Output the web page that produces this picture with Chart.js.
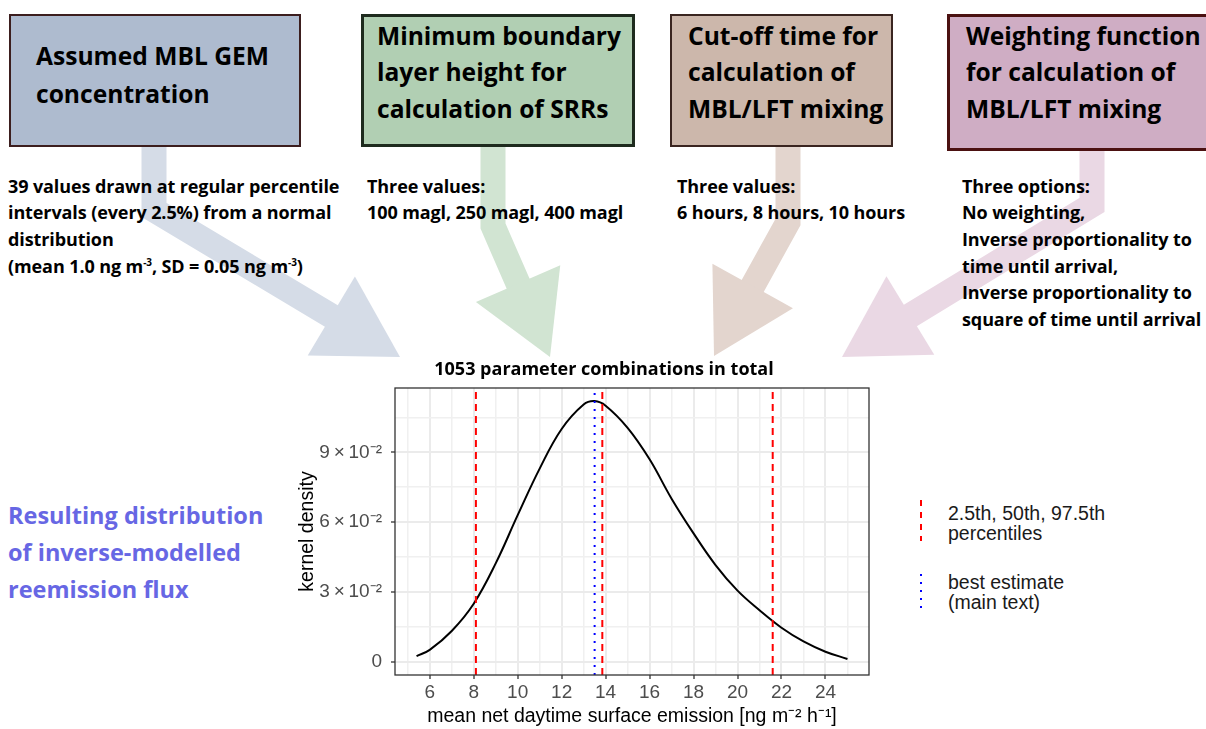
<!DOCTYPE html>
<html>
<head>
<meta charset="utf-8">
<script src="https://cdn.jsdelivr.net/npm/chart.js@4.4.1/dist/chart.umd.min.js"></script>
<style>
  html, body { margin: 0; padding: 0; background: #fff; }
  body { width: 1206px; height: 729px; position: relative; overflow: hidden; }
  #arrows { position: absolute; left: 0; top: 0; z-index: 0; }
  .box { position: absolute; box-sizing: border-box; z-index: 1; }
  .boxText, .desc, .result, .legendText {
    position: absolute; z-index: 2; white-space: nowrap;
  }
  .boxText { font: 700 24.6px 'Open Sans', 'Noto Sans', sans-serif; line-height: 36.5px; color: #000; }
  .desc { font: 700 18px 'Open Sans', 'Noto Sans', sans-serif; line-height: 26.7px; color: #000; letter-spacing: -0.1px; }
  .desc sup { font-size: 10px; vertical-align: 7px; line-height: 0; }
  .result { font: 700 23.5px 'Open Sans', 'Noto Sans', sans-serif; line-height: 37px; color: #6767e4; }
  .legendText { font: 19.5px 'Liberation Sans', Arial, sans-serif; line-height: 20px; color: #1a1a1a; }
  #chartBox { position: absolute; left: 296px; top: 358px; width: 612px; height: 371px; z-index: 3; }
  #legendSvg { position: absolute; left: 910px; top: 495px; z-index: 3; }
</style>
</head>
<body>

<svg id="arrows" width="1206" height="729"></svg>

<!-- parameter boxes -->
<div class="box" style="left:9px;top:14px;width:292px;height:133px;background:#aebbcf;border:2px solid #3c1e1e;"></div>
<div class="box" style="left:361px;top:14px;width:274px;height:133px;background:#b1cfb3;border:3px solid #1e2b1e;"></div>
<div class="box" style="left:670px;top:14px;width:223px;height:133px;background:#ccb7ab;border:2.5px solid #3a2520;"></div>
<div class="box" style="left:947px;top:14px;width:270px;height:137px;background:#cfadc4;border:3px solid #4b1111;"></div>

<div class="boxText" style="left:36px;top:37px;line-height:38px;">Assumed MBL GEM<br>concentration</div>
<div class="boxText" style="left:377px;top:17.5px;">Minimum boundary<br>layer height for<br>calculation of SRRs</div>
<div class="boxText" style="left:688px;top:17.5px;">Cut-off time for<br>calculation of<br>MBL/LFT mixing</div>
<div class="boxText" style="left:966px;top:17.5px;">Weighting function<br>for calculation of<br>MBL/LFT mixing</div>

<!-- descriptions -->
<div class="desc" style="left:8px;top:172.5px;">39 values drawn at regular percentile<br>intervals (every 2.5%) from a normal<br>distribution<br>(mean 1.0 ng m<sup>-3</sup>, SD = 0.05 ng m<sup>-3</sup>)</div>
<div class="desc" style="left:367px;top:172.5px;">Three values:<br>100 magl, 250 magl, 400 magl</div>
<div class="desc" style="left:677px;top:172.5px;">Three values:<br>6 hours, 8 hours, 10 hours</div>
<div class="desc" style="left:962px;top:172.5px;">Three options:<br>No weighting,<br>Inverse proportionality to<br>time until arrival,<br>Inverse proportionality to<br>square of time until arrival</div>

<div class="result" style="left:8px;top:496.5px;">Resulting distribution<br>of inverse-modelled<br>reemission flux</div>

<!-- chart -->
<div id="chartBox"><canvas id="densityChart"></canvas></div>

<!-- legend -->
<svg id="legendSvg" width="30" height="120">
  <line x1="11" y1="5" x2="11" y2="46" stroke="red" stroke-width="2" stroke-dasharray="6,6"></line>
  <line x1="11" y1="79" x2="11" y2="114" stroke="blue" stroke-width="2" stroke-dasharray="2,6"></line>
</svg>
<div class="legendText" style="left:948px;top:503px;">2.5th, 50th, 97.5th<br>percentiles</div>
<div class="legendText" style="left:948px;top:572px;">best estimate<br>(main text)</div>

<script>
// kernel density curve
const densityX = [5.4, 6, 7, 8, 9, 10, 11, 12, 13, 13.5, 14, 15, 16, 17, 18, 19, 20, 21, 22, 23, 24, 25];
const densityY = [0.0025, 0.0052, 0.0133, 0.0250, 0.0423, 0.063, 0.083, 0.100, 0.1105, 0.112, 0.110, 0.1005,
                  0.087, 0.0701, 0.0552, 0.0416, 0.0306, 0.0222, 0.0147, 0.0088, 0.0044, 0.0013];

// vertical reference lines
const percentileValues = [8.1, 13.85, 21.6];
const bestEstimate = 13.5;

// axis ranges and ticks
const xRange = [4.42, 25.98];
const yRange = [-0.0056, 0.1176];
const xTicks = [5, 6, 7, 8, 9, 10, 11, 12, 13, 14, 15, 16, 17, 18, 19, 20, 21, 22, 23, 24, 25];
const xLabelled = [6, 8, 10, 12, 14, 16, 18, 20, 22, 24];
const yTicks = [0, 0.015, 0.03, 0.045, 0.06, 0.075, 0.09, 0.105];
const yLabelled = [0, 0.03, 0.06, 0.09];
const yTickLabels = ['0', '3\u2009×\u200910⁻²', '6\u2009×\u200910⁻²', '9\u2009×\u200910⁻²'];
const chartTitle = '1053 parameter combinations in total';
const titleCenterX = 308; // canvas px, i.e. x = 604 on the page

// arrows from the parameter boxes to the chart
function drawArrows() {
    const svg = document.getElementById('arrows');
    const arrows = [
        { start: [154, 146], bend: [154, 210], tip: [400, 357], color: '#d5dce7' },
        { start: [493, 146], bend: [493, 226], tip: [550, 357], color: '#d1e4d2' },
        { start: [788, 146], bend: [788, 222], tip: [714, 356], color: '#e3d5ce' },
        { start: [1092, 150], bend: [1092, 205], tip: [842, 357], color: '#ead8e4' }
    ];
    const headLen = 80, headHalf = 46, shaftW = 25;
    arrows.forEach(a => {
        const dx = a.tip[0] - a.bend[0], dy = a.tip[1] - a.bend[1];
        const len = Math.hypot(dx, dy);
        const ux = dx / len, uy = dy / len;
        const base = [a.tip[0] - ux * headLen, a.tip[1] - uy * headLen];
        const px = -uy, py = ux;
        const shaft = document.createElementNS('http://www.w3.org/2000/svg', 'polyline');
        shaft.setAttribute('points', `${a.start[0]},${a.start[1]} ${a.bend[0]},${a.bend[1]} ${base[0] + ux},${base[1] + uy}`);
        shaft.setAttribute('fill', 'none');
        shaft.setAttribute('stroke', a.color);
        shaft.setAttribute('stroke-width', shaftW);
        shaft.setAttribute('stroke-linejoin', 'miter');
        svg.appendChild(shaft);
        const head = document.createElementNS('http://www.w3.org/2000/svg', 'polygon');
        head.setAttribute('points',
            `${base[0] + px * headHalf},${base[1] + py * headHalf} ${a.tip[0]},${a.tip[1]} ${base[0] - px * headHalf},${base[1] - py * headHalf}`);
        head.setAttribute('fill', a.color);
        svg.appendChild(head);
    });
}
drawArrows();

const isMajorX = v => xLabelled.includes(v);
const isMajorY = v => yLabelled.some(t => Math.abs(t - v) < 1e-9);

// panel border on top + title centred over the whole figure (ggplot style)
const panelDecor = {
    id: 'panelDecor',
    afterDatasetsDraw(chart) {
        const { ctx, chartArea: a } = chart;
        ctx.save();
        ctx.strokeStyle = '#333333';
        ctx.lineWidth = 1.3;
        ctx.strokeRect(a.left, a.top, a.right - a.left, a.bottom - a.top);
        ctx.restore();
    },
    afterDraw(chart) {
        const ctx = chart.ctx;
        ctx.save();
        ctx.font = "bold 18px 'Open Sans', 'Noto Sans', sans-serif";
        ctx.fillStyle = '#000';
        ctx.textAlign = 'center';
        ctx.textBaseline = 'middle';
        ctx.fillText(chartTitle, titleCenterX, 12);
        ctx.restore();
    }
};

function vline(x, color, dash) {
    return {
        data: [{ x: x, y: yRange[0] }, { x: x, y: yRange[1] }],
        borderColor: color,
        borderWidth: 2,
        borderDash: dash,
        pointRadius: 0,
        fill: false,
        order: 1
    };
}

Chart.defaults.font.family = "'Liberation Sans', Arial, sans-serif";

const datasets = [{
    data: densityX.map((x, i) => ({ x: x, y: densityY[i] })),
    borderColor: '#000000',
    borderWidth: 2,
    pointRadius: 0,
    tension: 0.4,
    fill: false,
    order: 2
}];
percentileValues.forEach(v => datasets.push(vline(v, '#ff0000', [7, 5])));
datasets.push(vline(bestEstimate, '#0000ff', [2, 6]));

new Chart(document.getElementById('densityChart'), {
    type: 'line',
    data: { datasets: datasets },
    plugins: [panelDecor],
    options: {
        responsive: true,
        maintainAspectRatio: false,
        animation: false,
        layout: { padding: { left: 0, right: 39, top: 30, bottom: 0 } },
        plugins: {
            legend: { display: false },
            tooltip: { enabled: false },
            title: { display: false }
        },
        scales: {
            x: {
                type: 'linear',
                min: xRange[0],
                max: xRange[1],
                afterBuildTicks: scale => { scale.ticks = xTicks.map(v => ({ value: v })); },
                afterFit: scale => { scale.height = 54; },
                border: { display: false },
                grid: {
                    color: ctx => isMajorX(ctx.tick.value) ? '#ebebeb' : '#f0f0f0',
                    lineWidth: ctx => isMajorX(ctx.tick.value) ? 2 : 1.5,
                    tickColor: ctx => isMajorX(ctx.tick.value) ? '#333333' : 'rgba(0,0,0,0)',
                    tickWidth: 1.3,
                    tickLength: 4
                },
                ticks: {
                    autoSkip: false,
                    maxRotation: 0,
                    padding: 2,
                    color: '#4d4d4d',
                    font: { size: 19 },
                    callback: v => isMajorX(v) ? String(v) : ''
                },
                title: {
                    display: true,
                    text: 'mean net daytime surface emission [ng m⁻² h⁻¹]',
                    color: '#000',
                    font: { size: 19.5 },
                    padding: { top: 0, bottom: 1 }
                }
            },
            y: {
                type: 'linear',
                min: yRange[0],
                max: yRange[1],
                afterBuildTicks: scale => { scale.ticks = yTicks.map(v => ({ value: v })); },
                afterFit: scale => { scale.width = 99; },
                border: { display: false },
                grid: {
                    color: ctx => isMajorY(ctx.tick.value) ? '#ebebeb' : '#f0f0f0',
                    lineWidth: ctx => isMajorY(ctx.tick.value) ? 2 : 1.5,
                    tickColor: ctx => isMajorY(ctx.tick.value) ? '#333333' : 'rgba(0,0,0,0)',
                    tickWidth: 1.3,
                    tickLength: 4
                },
                ticks: {
                    autoSkip: false,
                    padding: 9,
                    color: '#4d4d4d',
                    font: { size: 19 },
                    callback: v => {
                        const i = yLabelled.findIndex(t => Math.abs(t - v) < 1e-9);
                        return i >= 0 ? yTickLabels[i] : '';
                    }
                },
                title: {
                    display: true,
                    text: 'kernel density',
                    color: '#000',
                    font: { size: 19.5 },
                    padding: { top: 0, bottom: 0 }
                }
            }
        }
    }
});
</script>
</body>
</html>
